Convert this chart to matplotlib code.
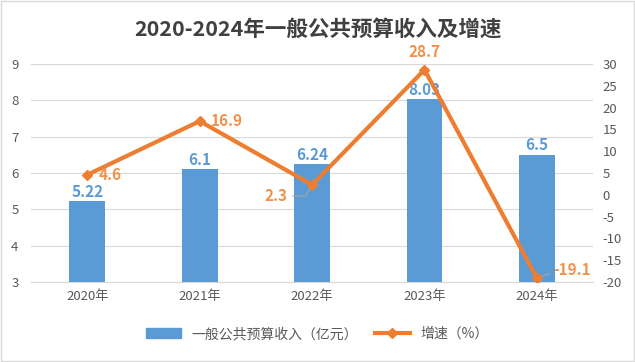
import matplotlib
matplotlib.use("Agg")
import matplotlib.pyplot as plt
from matplotlib.patches import Rectangle
from matplotlib.lines import Line2D

plt.rcParams['font.family'] = ['Noto Sans CJK SC', 'DejaVu Sans']
plt.rcParams['axes.unicode_minus'] = False

years = ["2020年", "2021年", "2022年", "2023年", "2024年"]
revenue = [5.22, 6.1, 6.24, 8.03, 6.5]
growth = [4.6, 16.9, 2.3, 28.7, -19.1]
bar_labels = ["5.22", "6.1", "6.24", "8.03", "6.5"]
growth_labels = ["4.6", "16.9", "2.3", "28.7", "-19.1"]

bar_color = "#5B9BD5"
line_color = "#ED7D31"
line_lbl_color = "#F2914A"

fig = plt.figure(figsize=(6.35, 3.62), dpi=100)
fig.patches.append(Rectangle((0.002, 0.003), 0.996, 0.994, transform=fig.transFigure,
                             fill=False, edgecolor="#D9D9D9", linewidth=1))
ax = fig.add_axes([0.049, 0.221, 0.885, 0.602])
ax2 = ax.twinx()

x = list(range(len(years)))
ax.bar(x, revenue, width=0.32, color=bar_color, zorder=2)
ax.set_ylim(3, 9)
ax.set_yticks(range(3, 10))
ax.set_xlim(-0.5, 4.5)
ax.set_xticks(x)
ax.set_xticklabels(years)
ax.grid(axis='y', color="#D9D9D9", linewidth=0.8, zorder=0)
ax.set_axisbelow(True)
for s in ["top", "left", "right"]:
    ax.spines[s].set_visible(False)
ax.spines["bottom"].set_color("#D9D9D9")
ax.tick_params(axis='both', length=0, labelsize=9.5, colors="#595959", pad=6)
ax.tick_params(axis='y', pad=9)

ax2.plot(x, growth, color=line_color, linewidth=3, marker="D", markersize=5, zorder=5)
ax2.set_ylim(-20, 30)
ax2.set_yticks(range(-20, 31, 5))
for s in ["top", "left", "right", "bottom"]:
    ax2.spines[s].set_visible(False)
ax2.tick_params(axis='y', length=0, labelsize=9.5, colors="#595959", pad=7)

for xi, v, t in zip(x, revenue, bar_labels):
    ax.annotate(t, (xi, v), xytext=(0, 1), textcoords="offset points", ha="center", va="bottom",
                color=bar_color, fontsize=11, fontweight="bold", zorder=6)

offsets = [(8, 0, "left", "center"), (8, 0, "left", "center"), (-18, -8, "right", "center"),
           (0, 7, "center", "bottom"), (12, 6, "left", "center")]
for xi, v, t, (dx, dy, ha, va) in zip(x, growth, growth_labels, offsets):
    ax2.annotate(t, (xi, v), xytext=(dx, dy), textcoords="offset points", ha=ha, va=va,
                 color=line_lbl_color, fontsize=11, fontweight="bold", zorder=6)
# leader lines
ax2.annotate("", (2, 2.3), xytext=(-16, -8), textcoords="offset points",
             arrowprops=dict(arrowstyle="-", color="#A6A6A6", lw=0.8,
                             connectionstyle="angle,angleA=0,angleB=60"))
ax2.annotate("", (4, -19.1), xytext=(11, 4), textcoords="offset points",
             arrowprops=dict(arrowstyle="-", color="#A6A6A6", lw=0.8))

fig.text(0.5, 0.918, "2020-2024年一般公共预算收入及增速", ha="center", va="center",
         fontsize=15.5, fontweight="bold", color="#404040")

h1 = Rectangle((0, 0), 1, 1, color=bar_color)
h2 = Line2D([0], [0], color=line_color, linewidth=3, marker="D", markersize=5)
fig.legend([h1, h2], ["一般公共预算收入（亿元）", "增速（%）"], loc="center",
           bbox_to_anchor=(0.5, 0.077), ncol=2, frameon=False, fontsize=10,
           labelcolor="#595959", handlelength=2.5, columnspacing=1.2)

fig.savefig("out.png", dpi=100)
